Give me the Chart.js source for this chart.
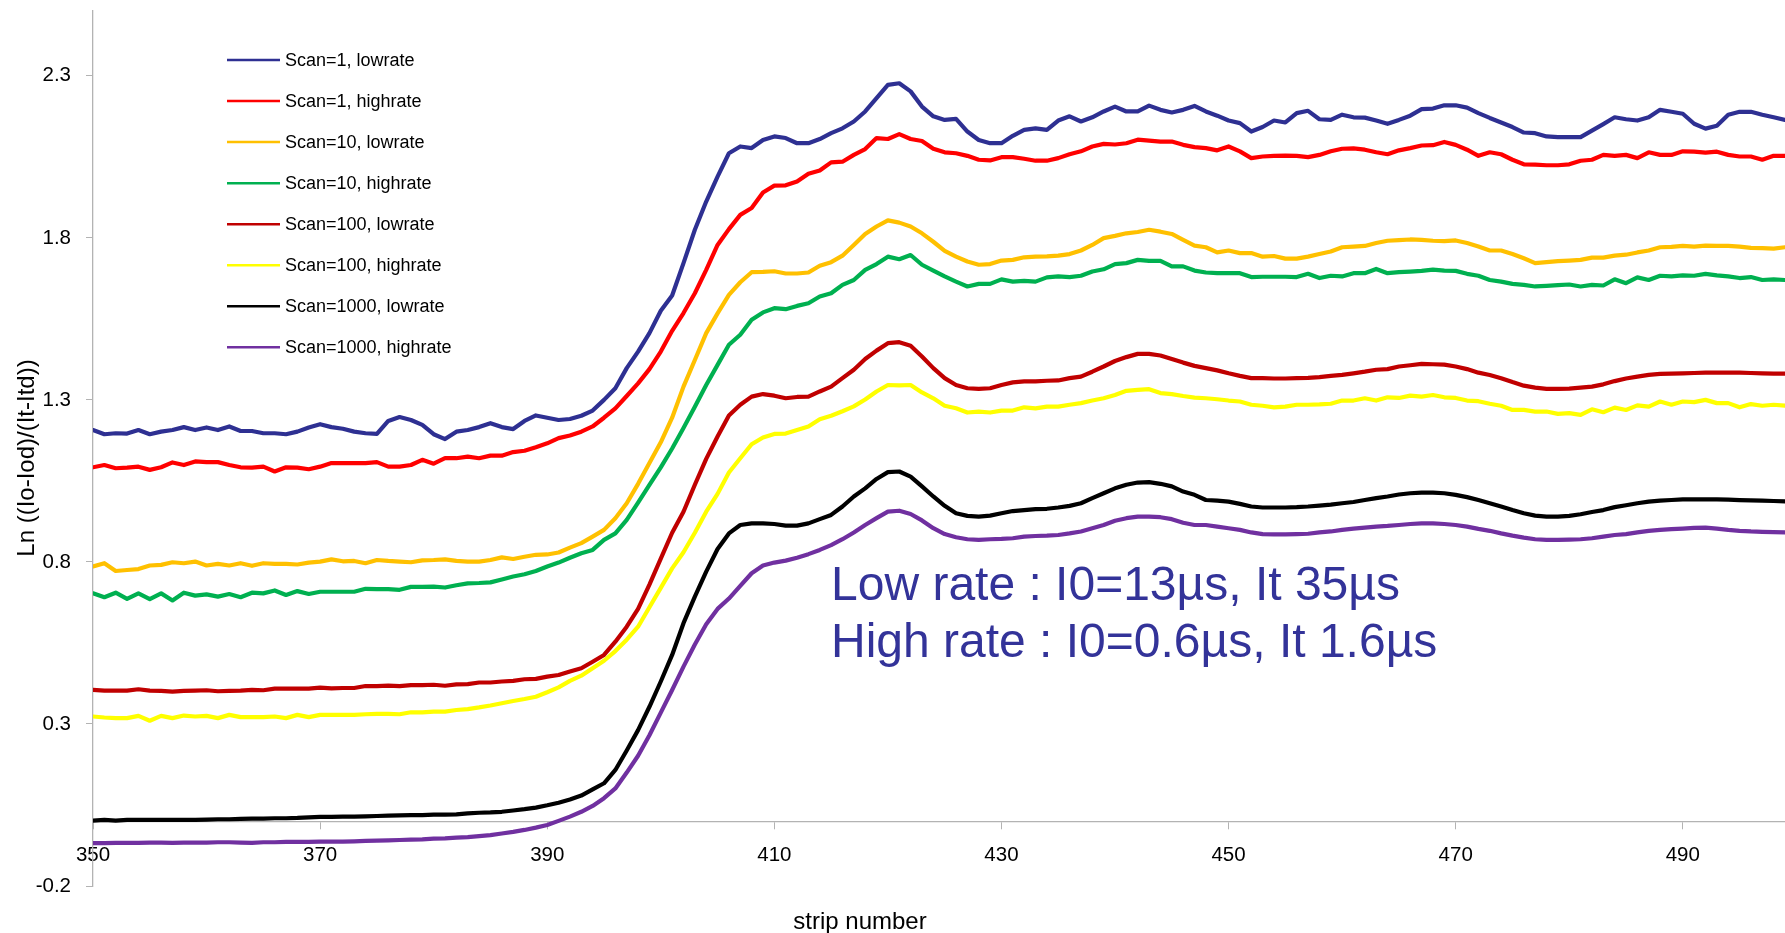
<!DOCTYPE html>
<html>
<head>
<meta charset="utf-8">
<title>Strip scan</title>
<script src="https://cdn.jsdelivr.net/npm/chart.js@4.4.1/dist/chart.umd.min.js"></script>
<style>
  html, body { margin: 0; padding: 0; background: #fff; }
  #wrap { width: 1785px; height: 933px; }
</style>
</head>
<body>
<div id="wrap"><canvas id="stripChart" width="1785" height="933"></canvas></div>
<script>
// strip numbers on the x axis
const strips = Array.from({ length: 150 }, function (_, i) { return 350 + i; });
const xTicks = [350, 370, 390, 410, 430, 450, 470, 490];
const yTicks = [-0.2, 0.3, 0.8, 1.3, 1.8, 2.3];

const seriesNames = [
    'Scan=1, lowrate', 'Scan=1, highrate', 'Scan=10, lowrate', 'Scan=10, highrate',
    'Scan=100, lowrate', 'Scan=100, highrate', 'Scan=1000, lowrate', 'Scan=1000, highrate'
];
const seriesColors = ['#2E3092', '#FF0000', '#FFC000', '#00B050', '#C00000', '#FFFF00', '#000000', '#7030A0'];

const scan1Low = [
    1.207, 1.194, 1.197, 1.196, 1.207, 1.194, 1.202, 1.207, 1.216, 1.207,
    1.215, 1.207, 1.218, 1.204, 1.204, 1.197, 1.197, 1.194, 1.202, 1.215,
    1.225, 1.216, 1.211, 1.202, 1.197, 1.195, 1.235, 1.247, 1.238, 1.223,
    1.194, 1.179, 1.202, 1.207, 1.216, 1.228, 1.216, 1.210, 1.235, 1.252,
    1.245, 1.238, 1.241, 1.251, 1.267, 1.300, 1.336, 1.398, 1.449, 1.506,
    1.575, 1.622, 1.722, 1.825, 1.912, 1.989, 2.061, 2.082, 2.077, 2.102,
    2.113, 2.108, 2.092, 2.092, 2.105, 2.123, 2.138, 2.159, 2.190, 2.231,
    2.272, 2.277, 2.252, 2.205, 2.175, 2.164, 2.167, 2.128, 2.102, 2.092,
    2.092, 2.115, 2.133, 2.138, 2.133, 2.162, 2.175, 2.159, 2.172, 2.190,
    2.205, 2.190, 2.190, 2.208, 2.195, 2.187, 2.195, 2.207, 2.190, 2.177,
    2.162, 2.154, 2.128, 2.142, 2.162, 2.156, 2.185, 2.192, 2.166, 2.164,
    2.180, 2.172, 2.171, 2.162, 2.152, 2.164, 2.177, 2.197, 2.199, 2.209,
    2.209, 2.202, 2.185, 2.170, 2.156, 2.142, 2.125, 2.123, 2.113, 2.111,
    2.111, 2.111, 2.131, 2.151, 2.172, 2.166, 2.162, 2.172, 2.195, 2.189,
    2.183, 2.152, 2.137, 2.146, 2.180, 2.189, 2.189, 2.180, 2.172, 2.164
];
const scan1High = [
    1.092, 1.099, 1.089, 1.091, 1.094, 1.084, 1.092, 1.107, 1.099, 1.110,
    1.108, 1.108, 1.099, 1.092, 1.091, 1.094, 1.079, 1.092, 1.091, 1.086,
    1.094, 1.105, 1.105, 1.105, 1.105, 1.108, 1.094, 1.094, 1.099, 1.115,
    1.103, 1.120, 1.120, 1.125, 1.120, 1.128, 1.128, 1.139, 1.143, 1.154,
    1.166, 1.182, 1.190, 1.202, 1.218, 1.245, 1.274, 1.312, 1.351, 1.395,
    1.449, 1.513, 1.568, 1.629, 1.701, 1.778, 1.827, 1.871, 1.892, 1.940,
    1.961, 1.962, 1.974, 1.998, 2.008, 2.033, 2.035, 2.056, 2.074, 2.108,
    2.105, 2.120, 2.105, 2.099, 2.075, 2.064, 2.061, 2.053, 2.041, 2.039,
    2.049, 2.049, 2.044, 2.038, 2.038, 2.046, 2.058, 2.067, 2.082, 2.090,
    2.088, 2.092, 2.103, 2.100, 2.097, 2.097, 2.087, 2.080, 2.077, 2.070,
    2.082, 2.067, 2.046, 2.051, 2.053, 2.054, 2.053, 2.049, 2.056, 2.067,
    2.075, 2.076, 2.072, 2.064, 2.058, 2.070, 2.077, 2.085, 2.086, 2.096,
    2.087, 2.072, 2.053, 2.064, 2.058, 2.041, 2.027, 2.026, 2.024, 2.024,
    2.027, 2.038, 2.041, 2.056, 2.053, 2.056, 2.046, 2.064, 2.056, 2.056,
    2.067, 2.066, 2.063, 2.066, 2.056, 2.051, 2.051, 2.041, 2.053, 2.053
];
const scan10Low = [
    0.786, 0.796, 0.772, 0.775, 0.778, 0.789, 0.791, 0.799, 0.796, 0.801,
    0.789, 0.794, 0.789, 0.796, 0.788, 0.796, 0.794, 0.794, 0.792, 0.798,
    0.801, 0.808, 0.802, 0.803, 0.796, 0.806, 0.803, 0.801, 0.799, 0.805,
    0.806, 0.808, 0.803, 0.801, 0.801, 0.806, 0.814, 0.809, 0.816, 0.822,
    0.823, 0.829, 0.844, 0.858, 0.878, 0.899, 0.935, 0.981, 1.041, 1.105,
    1.169, 1.245, 1.341, 1.423, 1.506, 1.567, 1.624, 1.663, 1.694, 1.695,
    1.697, 1.690, 1.690, 1.693, 1.714, 1.725, 1.745, 1.778, 1.812, 1.835,
    1.854, 1.847, 1.835, 1.814, 1.788, 1.760, 1.742, 1.727, 1.717, 1.719,
    1.730, 1.732, 1.740, 1.742, 1.743, 1.745, 1.750, 1.761, 1.778, 1.799,
    1.806, 1.814, 1.818, 1.825, 1.819, 1.812, 1.794, 1.776, 1.771, 1.755,
    1.761, 1.753, 1.753, 1.742, 1.744, 1.736, 1.736, 1.742, 1.750, 1.758,
    1.771, 1.773, 1.775, 1.784, 1.791, 1.793, 1.795, 1.794, 1.791, 1.790,
    1.792, 1.784, 1.773, 1.761, 1.761, 1.750, 1.737, 1.722, 1.725, 1.728,
    1.730, 1.732, 1.739, 1.739, 1.745, 1.748, 1.755, 1.761, 1.771, 1.772,
    1.775, 1.773, 1.776, 1.775, 1.775, 1.773, 1.769, 1.768, 1.767, 1.771
];
const scan10High = [
    0.703, 0.691, 0.705, 0.686, 0.703, 0.685, 0.703, 0.681, 0.705, 0.696,
    0.700, 0.693, 0.701, 0.691, 0.705, 0.703, 0.712, 0.698, 0.710, 0.701,
    0.708, 0.708, 0.708, 0.708, 0.717, 0.716, 0.716, 0.714, 0.723, 0.723,
    0.724, 0.721, 0.728, 0.734, 0.735, 0.737, 0.746, 0.755, 0.762, 0.772,
    0.786, 0.798, 0.813, 0.827, 0.837, 0.868, 0.888, 0.930, 0.983, 1.038,
    1.092, 1.150, 1.213, 1.279, 1.346, 1.408, 1.470, 1.501, 1.547, 1.570,
    1.583, 1.580, 1.590, 1.598, 1.619, 1.629, 1.655, 1.670, 1.701, 1.719,
    1.742, 1.734, 1.747, 1.717, 1.699, 1.681, 1.665, 1.650, 1.658, 1.658,
    1.672, 1.665, 1.667, 1.665, 1.678, 1.681, 1.679, 1.683, 1.696, 1.703,
    1.719, 1.722, 1.732, 1.729, 1.729, 1.712, 1.712, 1.699, 1.693, 1.691,
    1.691, 1.691, 1.679, 1.680, 1.680, 1.680, 1.679, 1.689, 1.676, 1.683,
    1.681, 1.691, 1.691, 1.704, 1.691, 1.694, 1.696, 1.698, 1.702, 1.699,
    1.698, 1.689, 1.683, 1.670, 1.665, 1.658, 1.655, 1.650, 1.652, 1.654,
    1.656, 1.650, 1.655, 1.653, 1.672, 1.660, 1.678, 1.670, 1.683, 1.681,
    1.684, 1.683, 1.689, 1.684, 1.681, 1.676, 1.679, 1.670, 1.672, 1.670
];
const scan100Low = [
    0.405, 0.403, 0.403, 0.403, 0.407, 0.403, 0.402, 0.400, 0.402, 0.403,
    0.404, 0.401, 0.402, 0.403, 0.405, 0.404, 0.409, 0.409, 0.409, 0.409,
    0.412, 0.410, 0.411, 0.411, 0.417, 0.417, 0.418, 0.417, 0.420, 0.420,
    0.421, 0.418, 0.422, 0.423, 0.428, 0.428, 0.431, 0.433, 0.438, 0.439,
    0.446, 0.451, 0.462, 0.472, 0.492, 0.513, 0.554, 0.600, 0.655, 0.730,
    0.810, 0.890, 0.955, 1.038, 1.118, 1.187, 1.252, 1.285, 1.310, 1.318,
    1.313, 1.305, 1.309, 1.310, 1.326, 1.341, 1.367, 1.393, 1.426, 1.452,
    1.475, 1.478, 1.467, 1.434, 1.398, 1.367, 1.346, 1.336, 1.334, 1.336,
    1.346, 1.354, 1.357, 1.357, 1.359, 1.360, 1.367, 1.372, 1.387, 1.403,
    1.420, 1.432, 1.442, 1.442, 1.437, 1.426, 1.415, 1.405, 1.398, 1.391,
    1.382, 1.374, 1.367, 1.367, 1.366, 1.366, 1.367, 1.368, 1.370, 1.374,
    1.377, 1.382, 1.387, 1.393, 1.395, 1.403, 1.407, 1.411, 1.410, 1.409,
    1.403, 1.395, 1.384, 1.377, 1.367, 1.355, 1.344, 1.338, 1.334, 1.334,
    1.335, 1.338, 1.341, 1.348, 1.358, 1.366, 1.372, 1.377, 1.380, 1.381,
    1.382, 1.383, 1.384, 1.384, 1.384, 1.384, 1.383, 1.382, 1.381, 1.381
];
const scan100High = [
    0.323, 0.320, 0.318, 0.318, 0.325, 0.310, 0.325, 0.318, 0.326, 0.323,
    0.325, 0.318, 0.328, 0.321, 0.321, 0.321, 0.323, 0.318, 0.328, 0.321,
    0.328, 0.328, 0.328, 0.328, 0.330, 0.331, 0.331, 0.330, 0.336, 0.336,
    0.338, 0.338, 0.343, 0.346, 0.351, 0.357, 0.364, 0.371, 0.377, 0.384,
    0.398, 0.413, 0.433, 0.449, 0.472, 0.495, 0.525, 0.560, 0.600, 0.660,
    0.720, 0.780, 0.830, 0.890, 0.955, 1.010, 1.076, 1.120, 1.163, 1.184,
    1.195, 1.196, 1.207, 1.218, 1.240, 1.251, 1.265, 1.280, 1.301, 1.326,
    1.346, 1.345, 1.346, 1.323, 1.305, 1.282, 1.274, 1.261, 1.264, 1.261,
    1.267, 1.267, 1.277, 1.274, 1.279, 1.279, 1.285, 1.290, 1.298, 1.305,
    1.315, 1.328, 1.331, 1.333, 1.321, 1.318, 1.312, 1.307, 1.305, 1.302,
    1.298, 1.295, 1.285, 1.282, 1.277, 1.279, 1.285, 1.285, 1.286, 1.288,
    1.298, 1.298, 1.305, 1.298, 1.308, 1.306, 1.313, 1.310, 1.315, 1.308,
    1.306, 1.298, 1.296, 1.288, 1.282, 1.269, 1.269, 1.264, 1.264, 1.257,
    1.259, 1.254, 1.271, 1.262, 1.276, 1.269, 1.283, 1.279, 1.295, 1.285,
    1.295, 1.293, 1.300, 1.290, 1.290, 1.277, 1.287, 1.282, 1.285, 1.282
];
const scan1000Low = [
    0.002, 0.004, 0.002, 0.004, 0.004, 0.004, 0.004, 0.004, 0.004, 0.004,
    0.005, 0.006, 0.006, 0.007, 0.008, 0.008, 0.009, 0.009, 0.010, 0.012,
    0.013, 0.013, 0.014, 0.014, 0.015, 0.016, 0.017, 0.018, 0.019, 0.019,
    0.020, 0.020, 0.021, 0.024, 0.026, 0.027, 0.029, 0.033, 0.037, 0.042,
    0.049, 0.057, 0.067, 0.079, 0.098, 0.117, 0.158, 0.218, 0.281, 0.353,
    0.431, 0.513, 0.611, 0.693, 0.770, 0.840, 0.888, 0.914, 0.919, 0.919,
    0.917, 0.912, 0.912, 0.919, 0.932, 0.945, 0.971, 1.002, 1.027, 1.056,
    1.077, 1.079, 1.063, 1.033, 1.002, 0.973, 0.950, 0.942, 0.940, 0.943,
    0.950, 0.957, 0.960, 0.963, 0.964, 0.968, 0.973, 0.981, 0.997, 1.012,
    1.027, 1.038, 1.045, 1.046, 1.041, 1.033, 1.017, 1.007, 0.991, 0.989,
    0.986, 0.979, 0.971, 0.968, 0.968, 0.968, 0.969, 0.971, 0.974, 0.977,
    0.981, 0.985, 0.991, 0.997, 1.002, 1.008, 1.012, 1.014, 1.014, 1.012,
    1.007, 1.000, 0.991, 0.981, 0.971, 0.960, 0.950, 0.943, 0.940, 0.940,
    0.942, 0.947, 0.954, 0.960, 0.969, 0.975, 0.981, 0.986, 0.989, 0.991,
    0.993, 0.993, 0.993, 0.993, 0.992, 0.991, 0.990, 0.989, 0.988, 0.987
];
const scan1000High = [
    -0.068, -0.068, -0.067, -0.067, -0.067, -0.066, -0.066, -0.067, -0.066, -0.066,
    -0.066, -0.065, -0.065, -0.066, -0.067, -0.065, -0.065, -0.064, -0.064, -0.064,
    -0.063, -0.063, -0.063, -0.062, -0.061, -0.060, -0.059, -0.058, -0.057, -0.056,
    -0.054, -0.053, -0.051, -0.049, -0.046, -0.043, -0.038, -0.033, -0.027, -0.020,
    -0.012, 0.001, 0.014, 0.029, 0.047, 0.071, 0.101, 0.150, 0.202, 0.265,
    0.335, 0.405, 0.477, 0.545, 0.608, 0.655, 0.687, 0.726, 0.765, 0.789,
    0.798, 0.804, 0.813, 0.824, 0.837, 0.852, 0.870, 0.891, 0.914, 0.935,
    0.955, 0.958, 0.948, 0.928, 0.904, 0.886, 0.876, 0.870, 0.868, 0.870,
    0.871, 0.873, 0.878, 0.880, 0.881, 0.883, 0.888, 0.894, 0.904, 0.914,
    0.927, 0.935, 0.940, 0.940, 0.938, 0.932, 0.921, 0.914, 0.914, 0.909,
    0.904, 0.899, 0.891, 0.886, 0.885, 0.885, 0.886, 0.887, 0.891, 0.894,
    0.899, 0.903, 0.906, 0.909, 0.911, 0.914, 0.917, 0.919, 0.919, 0.917,
    0.914, 0.909, 0.902, 0.896, 0.888, 0.881, 0.875, 0.870, 0.868, 0.868,
    0.869, 0.870, 0.873, 0.878, 0.883, 0.886, 0.891, 0.896, 0.899, 0.901,
    0.903, 0.905, 0.906, 0.903, 0.899, 0.896, 0.894, 0.893, 0.892, 0.891
];

const seriesValues = [scan1Low, scan1High, scan10Low, scan10High, scan100Low, scan100High, scan1000Low, scan1000High];

const FONT = "'Liberation Sans', Arial, sans-serif";
const AXIS_GREY = '#b3b3b3';

// Legend, axis titles and the rate note are drawn by hand, Excel style
const overlayPlugin = {
    id: 'overlay',
    afterDraw: function (chart) {
        const ctx = chart.ctx;
        ctx.save();

        // legend block inside the plot
        ctx.font = '18px ' + FONT;
        ctx.textAlign = 'left';
        ctx.textBaseline = 'middle';
        chart.data.datasets.forEach(function (ds, i) {
            const y = 60 + i * 41.05;
            ctx.strokeStyle = ds.borderColor;
            ctx.lineWidth = 2.5;
            ctx.beginPath();
            ctx.moveTo(227, y);
            ctx.lineTo(280, y);
            ctx.stroke();
            ctx.fillStyle = '#000';
            ctx.fillText(ds.label, 285, y + 1);
        });

        // axis titles
        ctx.fillStyle = '#000';
        ctx.font = '24px ' + FONT;
        ctx.textAlign = 'center';
        ctx.textBaseline = 'alphabetic';
        ctx.fillText('strip number', 860, 929);

        ctx.save();
        ctx.translate(34, 458);
        ctx.rotate(-Math.PI / 2);
        ctx.fillText('Ln ((Io-Iod)/(It-Itd))', 0, 0);
        ctx.restore();

        // rate note
        ctx.fillStyle = '#333399';
        ctx.font = '48px ' + FONT;
        ctx.textAlign = 'left';
        ctx.fillText('Low rate : I0=13\u00b5s, It 35\u00b5s', 831, 600);
        ctx.fillText('High rate : I0=0.6\u00b5s, It 1.6\u00b5s', 831, 657);

        ctx.restore();
    }
};

const datasets = seriesNames.map(function (name, i) {
    return {
        label: name,
        data: strips.map(function (s, j) { return { x: s, y: seriesValues[i][j] }; }),
        borderColor: seriesColors[i],
        backgroundColor: seriesColors[i],
        borderWidth: 4.2,
        pointRadius: 0,
        tension: 0,
        fill: false,
        borderJoinStyle: 'round',
        borderCapStyle: 'round'
    };
});

new Chart(document.getElementById('stripChart'), {
    type: 'line',
    data: { datasets: datasets },
    options: {
        responsive: false,
        devicePixelRatio: 1,
        animation: false,
        layout: { padding: { top: 11, bottom: 47, left: 0, right: 0 } },
        plugins: {
            legend: { display: false },
            tooltip: { enabled: false }
        },
        scales: {
            x: {
                type: 'linear',
                min: 350,
                max: 499,
                position: { y: 0 },
                afterBuildTicks: function (scale) {
                    scale.ticks = xTicks.map(function (v) { return { value: v }; });
                },
                afterFit: function (scale) {
                    scale.paddingLeft = 0;
                    scale.paddingRight = 0;
                },
                grid: { drawOnChartArea: false, drawTicks: true, tickLength: 7, color: AXIS_GREY },
                border: { display: true, color: AXIS_GREY, width: 1.3 },
                ticks: {
                    autoSkip: false,
                    maxRotation: 0,
                    padding: 15,
                    color: '#000',
                    font: { family: FONT, size: 20.5 },
                    callback: function (v) { return String(v); }
                }
            },
            y: {
                type: 'linear',
                min: -0.2,
                max: 2.5,
                afterBuildTicks: function (scale) {
                    scale.ticks = yTicks.map(function (v) { return { value: v }; });
                },
                afterFit: function (scale) {
                    scale.width = 93;
                    scale.paddingTop = 0;
                    scale.paddingBottom = 0;
                },
                grid: { drawOnChartArea: false, drawTicks: true, tickLength: 7, color: AXIS_GREY },
                border: { display: true, color: AXIS_GREY, width: 1.3 },
                ticks: {
                    padding: 15,
                    color: '#000',
                    font: { family: FONT, size: 20.5 },
                    callback: function (v) { return Number(v).toFixed(1); }
                }
            }
        }
    },
    plugins: [overlayPlugin]
});
</script>
</body>
</html>
